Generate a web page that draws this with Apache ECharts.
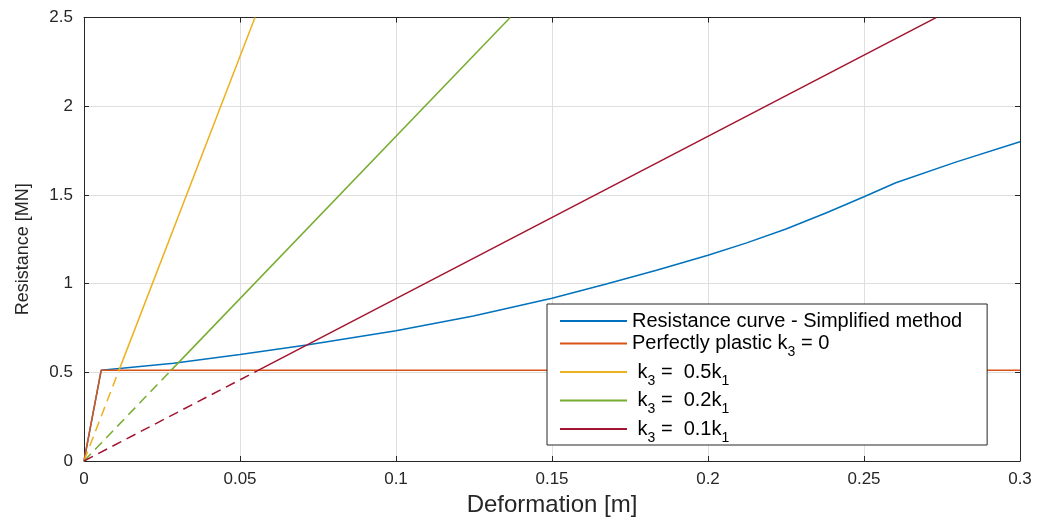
<!DOCTYPE html>
<html>
<head>
<meta charset="utf-8">
<script src="https://cdn.jsdelivr.net/npm/echarts@6/dist/echarts.min.js"></script>
<style>html,body{margin:0;padding:0;background:#fff}#c{width:1039px;height:517px}</style>
</head>
<body>
<div id="c"></div>
<script>
// ---- data ----
const xTicks = [0, 0.05, 0.1, 0.15, 0.2, 0.25, 0.3];
const yTicks = [0, 0.5, 1, 1.5, 2, 2.5];

const resX = [0, 0.0055, 0.0287, 0.05, 0.0714, 0.1, 0.1248, 0.15, 0.1674, 0.1835, 0.2, 0.2124, 0.225, 0.238, 0.25, 0.2602, 0.2794, 0.3];
const resY = [0, 0.511, 0.551, 0.601, 0.654, 0.735, 0.818, 0.918, 0.998, 1.075, 1.160, 1.230, 1.308, 1.400, 1.490, 1.569, 1.685, 1.80];

const plasticX = [0, 0.0055, 0.3];
const plasticY = [0, 0.511, 0.511];

const k05X = [0, 0.0112, 0.0548];
const k05Y = [0, 0.511, 2.5];
const k02X = [0, 0.0279, 0.1366];
const k02Y = [0, 0.511, 2.5];
const k01X = [0, 0.0558, 0.2731];
const k01Y = [0, 0.511, 2.5];

const names = ['Resistance curve - Simplified method', 'Perfectly plastic k3 = 0', 'k3 = 0.5k1', 'k3 = 0.2k1', 'k3 = 0.1k1'];
const colors = ['#0072BD', '#D95319', '#EDB120', '#77AC30', '#A2142F'];

// ---- build ----
const pairs = (xs, ys) => xs.map((x, i) => [x, ys[i]]);
const TXT = '#262626';
const FONT = '"Liberation Sans", Helvetica, Arial, sans-serif';

function solid(name, color, data) {
  return { name, type: 'line', data, color, symbol: 'none', showSymbol: false,
    lineStyle: { width: 1.5, color }, animation: false, z: 3 };
}
function dashed(name, color, data) {
  return { name, type: 'line', data, color, symbol: 'none', showSymbol: false,
    lineStyle: { width: 1.5, color, type: [10, 6] }, animation: false, z: 3 };
}

const series = [
  solid(names[0], colors[0], pairs(resX, resY)),
  solid(names[1], colors[1], pairs(plasticX, plasticY)),
  dashed('k05_d', colors[2], pairs(k05X, k05Y).slice(0, 2)),
  solid(names[2], colors[2], pairs(k05X, k05Y).slice(1)),
  dashed('k02_d', colors[3], pairs(k02X, k02Y).slice(0, 2)),
  solid(names[3], colors[3], pairs(k02X, k02Y).slice(1)),
  dashed('k01_d', colors[4], pairs(k01X, k01Y).slice(0, 2)),
  solid(names[4], colors[4], pairs(k01X, k01Y).slice(1))
];

const legendFmt = {};
legendFmt[names[0]] = '{a|' + names[0] + '}';
legendFmt[names[1]] = '{m|Perfectly plastic k}{s|3}{m| = 0}';
legendFmt[names[2]] = '{m| k}{s|3}{m| =  0.5k}{s|1}';
legendFmt[names[3]] = '{m| k}{s|3}{m| =  0.2k}{s|1}';
legendFmt[names[4]] = '{m| k}{s|3}{m| =  0.1k}{s|1}';

const xMain = {
  type: 'value', min: xTicks[0], max: xTicks[xTicks.length - 1], interval: xTicks[1] - xTicks[0],
  position: 'bottom',
  name: 'Deformation [m]', nameLocation: 'middle', nameGap: 28,
  nameTextStyle: { fontFamily: FONT, fontSize: 24, color: TXT },
  axisLine: { show: true, onZero: false, lineStyle: { color: TXT, width: 1 } },
  axisTick: { show: true, inside: true, length: 5, lineStyle: { color: TXT } },
  axisLabel: { fontFamily: FONT, fontSize: 17, color: TXT, margin: 10 },
  splitLine: { show: true, lineStyle: { color: '#dfdfdf', width: 1 } }
};
const xTop = {
  type: 'value', min: xTicks[0], max: xTicks[xTicks.length - 1], interval: xTicks[1] - xTicks[0],
  position: 'top',
  axisLine: { show: true, onZero: false, lineStyle: { color: TXT, width: 1 } },
  axisTick: { show: true, inside: true, length: 5, lineStyle: { color: TXT } },
  axisLabel: { show: false }, splitLine: { show: false }
};
const yMain = {
  type: 'value', min: yTicks[0], max: yTicks[yTicks.length - 1], interval: yTicks[1] - yTicks[0],
  position: 'left',
  name: 'Resistance [MN]', nameLocation: 'middle', nameGap: 52,
  nameTextStyle: { fontFamily: FONT, fontSize: 18, color: TXT, padding: [0, 20, 0, 0] },
  axisLine: { show: true, onZero: false, lineStyle: { color: TXT, width: 1 } },
  axisTick: { show: true, inside: true, length: 5, lineStyle: { color: TXT } },
  axisLabel: { fontFamily: FONT, fontSize: 17, color: TXT, margin: 11 },
  splitLine: { show: true, lineStyle: { color: '#dfdfdf', width: 1 } }
};
const yRight = {
  type: 'value', min: yTicks[0], max: yTicks[yTicks.length - 1], interval: yTicks[1] - yTicks[0],
  position: 'right',
  axisLine: { show: true, onZero: false, lineStyle: { color: TXT, width: 1 } },
  axisTick: { show: true, inside: true, length: 5, lineStyle: { color: TXT } },
  axisLabel: { show: false }, splitLine: { show: false }
};

const chart = echarts.init(document.getElementById('c'), null, { renderer: 'canvas' });
chart.setOption({
  backgroundColor: '#fff',
  animation: false,
  grid: { left: 84, right: 19, top: 17.6, bottom: 56, containLabel: false, outerBoundsMode: 'none' },
  xAxis: [xMain, xTop],
  yAxis: [yMain, yRight],
  legend: {
    data: names,
    orient: 'vertical',
    left: 547, top: 304,
    padding: [7, 25, 0, 13],
    itemGap: 2.5,
    itemWidth: 67, itemHeight: 2,
    icon: 'rect',
    backgroundColor: '#fff',
    borderColor: TXT, borderWidth: 1, borderRadius: 0,
    selectedMode: false,
    formatter: n => legendFmt[n],
    textStyle: {
      fontFamily: FONT, color: '#000',
      rich: {
        a: { fontFamily: FONT, fontSize: 20, lineHeight: 19, color: '#000' },
        m: { fontFamily: FONT, fontSize: 20, lineHeight: 31, color: '#000' },
        s: { fontFamily: FONT, fontSize: 14, padding: [9, 0, -9, 0], color: '#000' }
      }
    }
  },
  series
});
</script>
</body>
</html>
